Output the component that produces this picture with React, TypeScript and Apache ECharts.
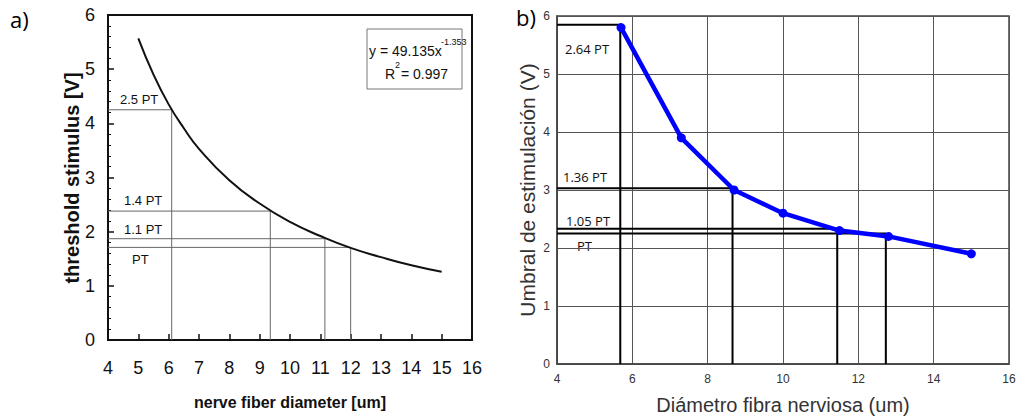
import React, { useEffect, useRef } from "react";
import * as echarts from "echarts";

// Panel a) fitted curve
const curveAX = [5, 5.5, 6, 6.5, 7, 8, 9, 10, 11, 12, 13, 14, 15];
const curveAY = [5.57, 4.9, 4.35, 3.91, 3.53, 2.95, 2.52, 2.18, 1.92, 1.7, 1.53, 1.38, 1.26];
// Panel a) guide lines (threshold level, diameter)
const guideAY = [4.25, 2.38, 1.87, 1.71];
const guideAX = [6.1, 9.35, 11.15, 12.0];
const guideALabels = ["2.5 PT", "1.4 PT", "1.1 PT", "PT"];

// Panel b) measured points
const pointsBX = [5.7, 7.3, 8.7, 10, 11.5, 12.8, 15];
const pointsBY = [5.8, 3.9, 3.0, 2.6, 2.3, 2.2, 1.9];
// Panel b) guide lines
const guideBY = [5.85, 3.03, 2.33, 2.25];
const guideBX = [5.68, 8.66, 11.44, 12.73];
const guideBLabels = ["2.64 PT", "1.36 PT", "1.05 PT", "PT"];

const FA = "'Liberation Sans', Arial, sans-serif";
const FB = "'Liberation Sans', Arial, sans-serif";
const FC = "'Open Sans', 'Noto Sans', sans-serif";

export default function App() {
  const ref = useRef<HTMLDivElement>(null);
  useEffect(() => {
    document.body.style.margin = "0";
    const chart = echarts.init(ref.current!, null, { renderer: "svg" });

    const guideSeries = (
      ys: number[],
      xs: number[],
      xi: number,
      color: string,
      width: number
    ) =>
      ys.map((y, i) => ({
        type: "line",
        xAxisIndex: xi,
        yAxisIndex: xi,
        data: [
          [4, y],
          [xs[i], y],
          [xs[i], 0],
        ],
        symbol: "none",
        silent: true,
        lineStyle: { color, width },
        z: 2,
      }));

    const labelsA = [
      { t: guideALabels[0], x: 120, y: 99 },
      { t: guideALabels[1], x: 124, y: 200 },
      { t: guideALabels[2], x: 124, y: 229 },
      { t: guideALabels[3], x: 132, y: 259 },
    ];
    const labelsB = [
      { t: guideBLabels[0], x: 565, y: 49 },
      { t: guideBLabels[1], x: 563, y: 177 },
      { t: guideBLabels[2], x: 566, y: 221 },
      { t: guideBLabels[3], x: 577, y: 246 },
    ];

    const option: any = {
      animation: false,
      grid: [
        {
          left: 108,
          top: 15,
          width: 364,
          height: 325,
          show: true,
          borderColor: "#111",
          borderWidth: 2,
          backgroundColor: "transparent",
        },
        {
          left: 557,
          top: 16,
          width: 452,
          height: 348,
          show: true,
          borderColor: "#444",
          borderWidth: 1.5,
          backgroundColor: "transparent",
        },
      ],
      xAxis: [
        {
          gridIndex: 0,
          type: "value",
          min: 4,
          max: 16,
          interval: 1,
          axisLine: { show: true, lineStyle: { color: "#111", width: 2 } },
          axisTick: { show: true, inside: true, length: 6, lineStyle: { color: "#111", width: 1.5 } },
          axisLabel: { color: "#111", fontSize: 18, fontFamily: FA, margin: 19 },
          splitLine: { show: false },
        },
        {
          gridIndex: 1,
          type: "value",
          min: 4,
          max: 16,
          interval: 2,
          axisLine: { show: true, lineStyle: { color: "#444", width: 1.5 } },
          axisTick: { show: false },
          axisLabel: { color: "#333", fontSize: 12, fontFamily: FB, margin: 9 },
          splitLine: { show: true, lineStyle: { color: "#555", width: 1 } },
        },
      ],
      yAxis: [
        {
          gridIndex: 0,
          type: "value",
          min: 0,
          max: 6,
          interval: 1,
          axisLine: { show: true, lineStyle: { color: "#111", width: 2 } },
          axisTick: { show: true, inside: true, length: 6, lineStyle: { color: "#111", width: 1.5 } },
          minorTick: { show: true, splitNumber: 5, length: 3, lineStyle: { color: "#111", width: 1 } },
          axisLabel: { color: "#111", fontSize: 18, fontFamily: FA, margin: 13 },
          splitLine: { show: false },
        },
        {
          gridIndex: 1,
          type: "value",
          min: 0,
          max: 6,
          interval: 1,
          axisLine: { show: true, lineStyle: { color: "#444", width: 1.5 } },
          axisTick: { show: false },
          axisLabel: { color: "#333", fontSize: 12, fontFamily: FB, margin: 7 },
          splitLine: { show: true, lineStyle: { color: "#555", width: 1 } },
        },
      ],
      series: [
        ...guideSeries(guideAY, guideAX, 0, "#666", 1),
        {
          type: "line",
          xAxisIndex: 0,
          yAxisIndex: 0,
          data: curveAX.map((x, i) => [x, curveAY[i]]),
          smooth: true,
          symbol: "none",
          lineStyle: { color: "#111", width: 2 },
          z: 3,
        },
        ...guideSeries(guideBY, guideBX, 1, "#000", 2),
        {
          type: "line",
          xAxisIndex: 1,
          yAxisIndex: 1,
          data: pointsBX.map((x, i) => [x, pointsBY[i]]),
          symbol: "circle",
          symbolSize: 9,
          itemStyle: { color: "#0000ff" },
          lineStyle: { color: "#0000ff", width: 4.5 },
          z: 4,
        },
      ],
      graphic: [
        { type: "text", left: 10, top: 8, style: { text: "a)", fontSize: 22, fontFamily: FC, fill: "#000" } },
        { type: "text", left: 516, top: 6, style: { text: "b)", fontSize: 22, fontFamily: FC, fill: "#000" } },
        // panel a axis titles
        {
          type: "text",
          x: 72,
          y: 178,
          rotation: Math.PI / 2,
          style: {
            text: "threshold stimulus [V]",
            fontSize: 20,
            fontWeight: "bold",
            fontFamily: FA,
            fill: "#111",
            align: "center",
            verticalAlign: "middle",
          },
        },
        {
          type: "text",
          x: 290,
          y: 402,
          style: {
            text: "nerve fiber diameter [um]",
            fontSize: 16,
            fontWeight: "bold",
            fontFamily: FA,
            fill: "#111",
            align: "center",
            verticalAlign: "middle",
          },
        },
        // equation box
        {
          type: "rect",
          shape: { x: 367, y: 29, width: 95, height: 60 },
          style: { fill: "#fff", stroke: "#777", lineWidth: 1 },
          z: 10,
        },
        {
          type: "text",
          x: 369,
          y: 51,
          z: 11,
          style: { text: "y = 49.135x", fontSize: 14, fontFamily: FA, fill: "#111", verticalAlign: "middle" },
        },
        {
          type: "text",
          x: 441,
          y: 42,
          z: 11,
          style: { text: "-1.353", fontSize: 9, fontFamily: FA, fill: "#111", verticalAlign: "middle" },
        },
        {
          type: "text",
          x: 385,
          y: 74,
          z: 11,
          style: { text: "R", fontSize: 14, fontFamily: FA, fill: "#111", verticalAlign: "middle" },
        },
        {
          type: "text",
          x: 395,
          y: 65,
          z: 11,
          style: { text: "2", fontSize: 9, fontFamily: FA, fill: "#111", verticalAlign: "middle" },
        },
        {
          type: "text",
          x: 401,
          y: 74,
          z: 11,
          style: { text: "= 0.997", fontSize: 14, fontFamily: FA, fill: "#111", verticalAlign: "middle" },
        },
        ...labelsA.map((l) => ({
          type: "text",
          x: l.x,
          y: l.y,
          style: { text: l.t, fontSize: 13, fontFamily: FA, fill: "#111", verticalAlign: "middle" },
        })),
        // panel b axis titles
        {
          type: "text",
          x: 527,
          y: 190,
          rotation: Math.PI / 2,
          style: {
            text: "Umbral de estimulación (V)",
            fontSize: 21,
            fontFamily: FB,
            fill: "#333",
            align: "center",
            verticalAlign: "middle",
          },
        },
        {
          type: "text",
          x: 783,
          y: 405,
          style: {
            text: "Diámetro fibra nerviosa (um)",
            fontSize: 20,
            fontFamily: FB,
            fill: "#333",
            align: "center",
            verticalAlign: "middle",
          },
        },
        ...labelsB.map((l) => ({
          type: "text",
          x: l.x,
          y: l.y,
          style: { text: l.t, fontSize: 13, fontFamily: FC, fill: "#111", verticalAlign: "middle" },
        })),
      ],
    };
    chart.setOption(option);
    return () => chart.dispose();
  }, []);
  return <div ref={ref} style={{ width: 1019, height: 418 }} />;
}
